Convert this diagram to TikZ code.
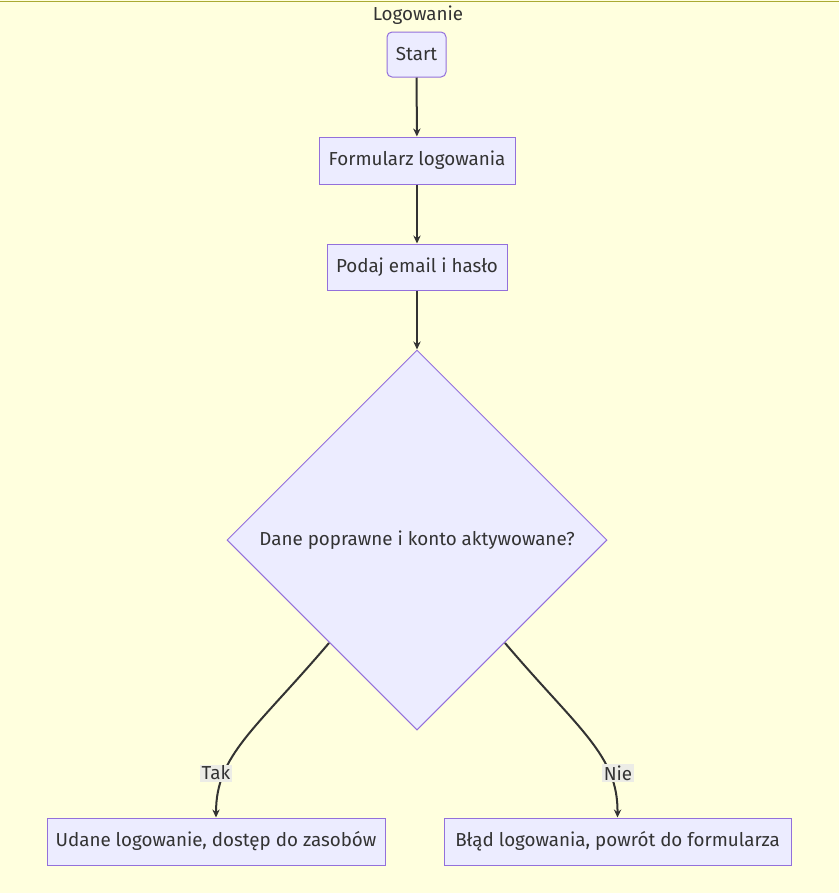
\documentclass[tikz,border=0pt]{standalone}
\usepackage{fontspec}
\setmainfont{Fira Sans}
\usetikzlibrary{shapes.geometric,arrows.meta}
\definecolor{bgyellow}{HTML}{FFFFDE}
\definecolor{frameline}{HTML}{AAAA33}
\definecolor{boxfill}{HTML}{ECECFF}
\definecolor{boxline}{HTML}{9370DB}
\definecolor{ink}{HTML}{333333}
\definecolor{lblbg}{HTML}{ECECE6}
\tikzset{
  every node/.style={text=ink, font=\fontsize{14.1}{16}\selectfont},
  procbox/.style={draw=boxline, fill=boxfill, line width=0.75pt, inner sep=0pt, minimum height=35.25pt},
  startbox/.style={procbox, rounded corners=3.75pt},
  decision/.style={diamond, aspect=1, draw=boxline, fill=boxfill, line width=0.75pt, inner sep=0pt, minimum width=285pt, minimum height=285pt},
  flow/.style={draw=ink, line width=1.5pt, -{Stealth[length=6pt,width=5.5pt]}},
  edgelbl/.style={fill=lblbg, inner sep=1pt}
}
\begin{document}
\begin{tikzpicture}[x=0.75pt, y=-0.75pt]
  % canvas and frame edge
  \fill[bgyellow] (0,0) rectangle (839,893);
  \useasboundingbox (0,0) rectangle (839,893);
  \draw[frameline, line width=0.75pt] (0,1) -- (839,1);

  \node (title) at (418,15) {Logowanie};

  \node[startbox, minimum width=44.25pt, minimum height=33.75pt] (start) at (416.5,54.5) {Start};
  \node[procbox, minimum width=147pt] (form) at (417,160.5) {Formularz logowania};
  \node[procbox, minimum width=135pt, minimum height=34.5pt] (creds) at (417,267) {Podaj email i hasło};
  \node[decision] (check) at (417,540) {Dane poprawne i konto aktywowane?};
  \node[procbox, minimum width=253.5pt] (ok) at (216,841.5) {Udane logowanie, dostęp do zasobów};
  \node[procbox, minimum width=260.25pt] (fail) at (617.5,841.5) {Błąd logowania, powrót do formularza};

  \draw[flow] (start) -- (form);
  \draw[flow] (form) -- (creds);
  \draw[flow] (creds) -- (check);

  \coordinate (okout) at (329,643);
  \coordinate (failout) at (505,643);
  \draw[flow] (okout) .. controls (255,730) and (216,755) .. (ok.north);
  \draw[flow] (failout) .. controls (579,730) and (618,755) .. (fail.north);

  \node[edgelbl] (tak) at (216,773) {Tak};
  \node[edgelbl] (nie) at (618,773) {Nie};
\end{tikzpicture}
\end{document}
